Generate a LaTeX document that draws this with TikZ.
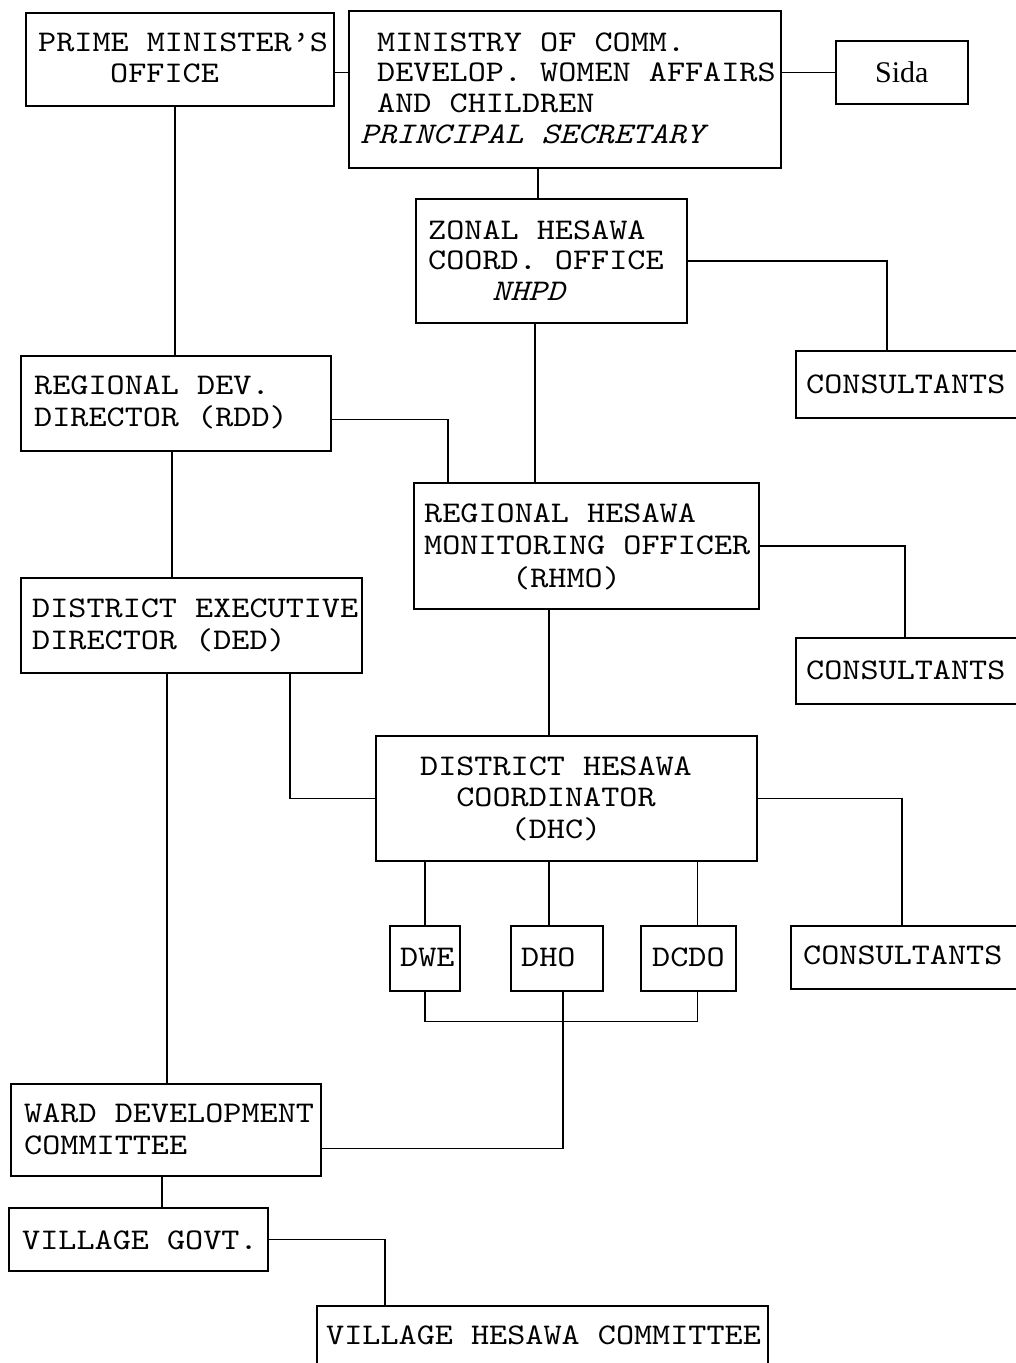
\documentclass[tikz,border=0pt]{standalone}
\usepackage{fontspec}
\newfontfamily\monof{lmmono10-regular.otf}[FakeStretch=1.15, ItalicFont=lmmono10-italic.otf, BoldFont=lmmonolt10-bold.otf]
\newfontfamily\seriff{Liberation Serif}
\usetikzlibrary{calc}
\begin{document}
\begin{tikzpicture}[x=1pt,y=-1pt,
 box/.style={draw, line width=1.6pt, inner sep=0pt, anchor=north west},
 lbl/.style={inner sep=0pt, anchor=base west, font=\monof\fontsize{30}{31}\selectfont},
 ilbl/.style={lbl, font=\monof\itshape\fontsize{30}{31}\selectfont},
 clbl/.style={lbl, anchor=base},
 link/.style={line width=1.6pt}]
\clip (0,0) rectangle (1016,1363);
\fill[white] (0,0) rectangle (1016,1363);
% boxes
\node[box, minimum width=308pt, minimum height=93pt] (pmo) at (25,12) {};
\node[box, minimum width=432pt, minimum height=157pt] (min) at (348,10) {};
\node[box, minimum width=132pt, minimum height=63pt, font=\seriff\fontsize{30}{31}\selectfont] (sida) at (835,40) {Sida};
\node[box, minimum width=271pt, minimum height=124pt] (zon) at (415,198) {};
\node[box, minimum width=262pt, minimum height=67pt] (cons1) at (795,350) {};
\node[box, minimum width=310pt, minimum height=95pt] (rdd) at (20,355) {};
\node[box, minimum width=345pt, minimum height=126pt] (rhmo) at (413,482) {};
\node[box, minimum width=262pt, minimum height=66pt] (cons2) at (795,637) {};
\node[box, minimum width=341pt, minimum height=95pt] (ded) at (20,577) {};
\node[box, minimum width=381pt, minimum height=125pt] (dhc) at (375,735) {};
\node[box, minimum width=267pt, minimum height=63pt] (cons3) at (790,925) {};
\node[box, minimum width=70pt, minimum height=65pt] (dwe) at (389,925) {};
\node[box, minimum width=92pt, minimum height=65pt] (dho) at (510,925) {};
\node[box, minimum width=95pt, minimum height=65pt] (dcdo) at (640,925) {};
\node[box, minimum width=310pt, minimum height=92pt] (wdc) at (10,1083) {};
\node[box, minimum width=259pt, minimum height=63pt] (vg) at (8,1207) {};
\node[box, minimum width=451pt, minimum height=70pt] (vhc) at (316,1305) {};
% labels
\node[lbl] (pmo1) at (38,51) {PRIME MINISTER’S};
\node[lbl] (pmo2) at (110,82) {OFFICE};
\node[lbl] (min1) at (377,51) {MINISTRY OF COMM.};
\node[lbl] (min2) at (377,81) {DEVELOP. WOMEN AFFAIRS};
\node[lbl] (min3) at (377,112) {AND CHILDREN};
\node[ilbl] (min4) at (360,143) {PRINCIPAL SECRETARY};
\node[lbl] (zon1) at (428,239) {ZONAL HESAWA};
\node[lbl] (zon2) at (428,269) {COORD. OFFICE};
\node[ilbl] (zon3) at (492,300) {NHPD};
\node[lbl] (c1t) at (806,393) {CONSULTANTS};
\node[lbl] (rdd1) at (34,394) {REGIONAL DEV.};
\node[lbl] (rdd2) at (34,426) {DIRECTOR (RDD)};
\node[lbl] (rh1) at (424,522) {REGIONAL HESAWA};
\node[lbl] (rh2) at (424,554) {MONITORING OFFICER};
\node[lbl] (rh3) at (512,587) {(RHMO)};
\node[lbl] (c2t) at (806,679) {CONSULTANTS};
\node[lbl] (ded1) at (32,617) {DISTRICT EXECUTIVE};
\node[lbl] (ded2) at (32,649) {DIRECTOR (DED)};
\node[clbl] (dhc1) at (556,775) {DISTRICT HESAWA};
\node[clbl] (dhc2) at (556,806) {COORDINATOR};
\node[clbl] (dhc3) at (556,838) {(DHC)};
\node[lbl] (c3t) at (803,964) {CONSULTANTS};
\node[lbl] (dwet) at (400,966) {DWE};
\node[lbl] (dhot) at (521,966) {DHO};
\node[lbl] (dcdot) at (652,966) {DCDO};
\node[lbl] (wdc1) at (24,1122) {WARD DEVELOPMENT};
\node[lbl] (wdc2) at (24,1154) {COMMITTEE};
\node[lbl] (vgt) at (22,1249) {VILLAGE GOVT.};
\node[lbl] (vht) at (326,1344) {VILLAGE HESAWA COMMITTEE};
% connectors
\draw[link] (pmo.east |- sida.west) -- (min.west |- sida.west);
\draw[link] (min.east |- sida.west) -- (sida.west);
\draw[link] ($(zon.north west)+(123,0)$) -- ($(min.south west)+(190,0)$);
\draw[link] (zon.east) -| ($(cons1.north west)+(92,0)$);
\draw[link] ($(zon.south west)+(120,0)$) -- ($(rhmo.north west)+(122,0)$);
\draw[link] ($(pmo.south west)+(150,0)$) -- ($(rdd.north west)+(155,0)$);
\draw[link] ($(rdd.south east)+(0,-32)$) -| ($(rhmo.north west)+(35,0)$);
\draw[link] (rhmo.east) -| ($(cons2.north west)+(110,0)$);
\draw[link] ($(rdd.south west)+(152,0)$) -- ($(ded.north west)+(152,0)$);
\draw[link] ($(rhmo.south west)+(136,0)$) -- ($(dhc.north west)+(174,0)$);
\draw[link] ($(ded.south west)+(270,0)$) |- (dhc.west);
\draw[link] (dhc.east) -| ($(cons3.north west)+(112,0)$);
\draw[link] (dwe.north |- dhc.south) -- (dwe.north);
\draw[link] ($(dho.north)+(-8,0)$) -- ($(dho.north |- dhc.south)+(-8,0)$);
\draw[link] ($(dcdo.north)+(9,0)$) -- ($(dcdo.north |- dhc.south)+(9,0)$);
\draw[link] (dwe.south) -- ++(0,30) -| ($(dcdo.south)+(9,0)$);
\draw[link] ($(dho.south)+(6,0)$) |- ($(wdc.south east)+(0,-28)$);
\draw[link] ($(ded.south west)+(147,0)$) -- ($(wdc.north west)+(157,0)$);
\draw[link] ($(wdc.south west)+(152,0)$) -- ($(vg.north west)+(154,0)$);
\draw[link] (vg.east) -| ($(vhc.north west)+(69,0)$);
\end{tikzpicture}
\end{document}
